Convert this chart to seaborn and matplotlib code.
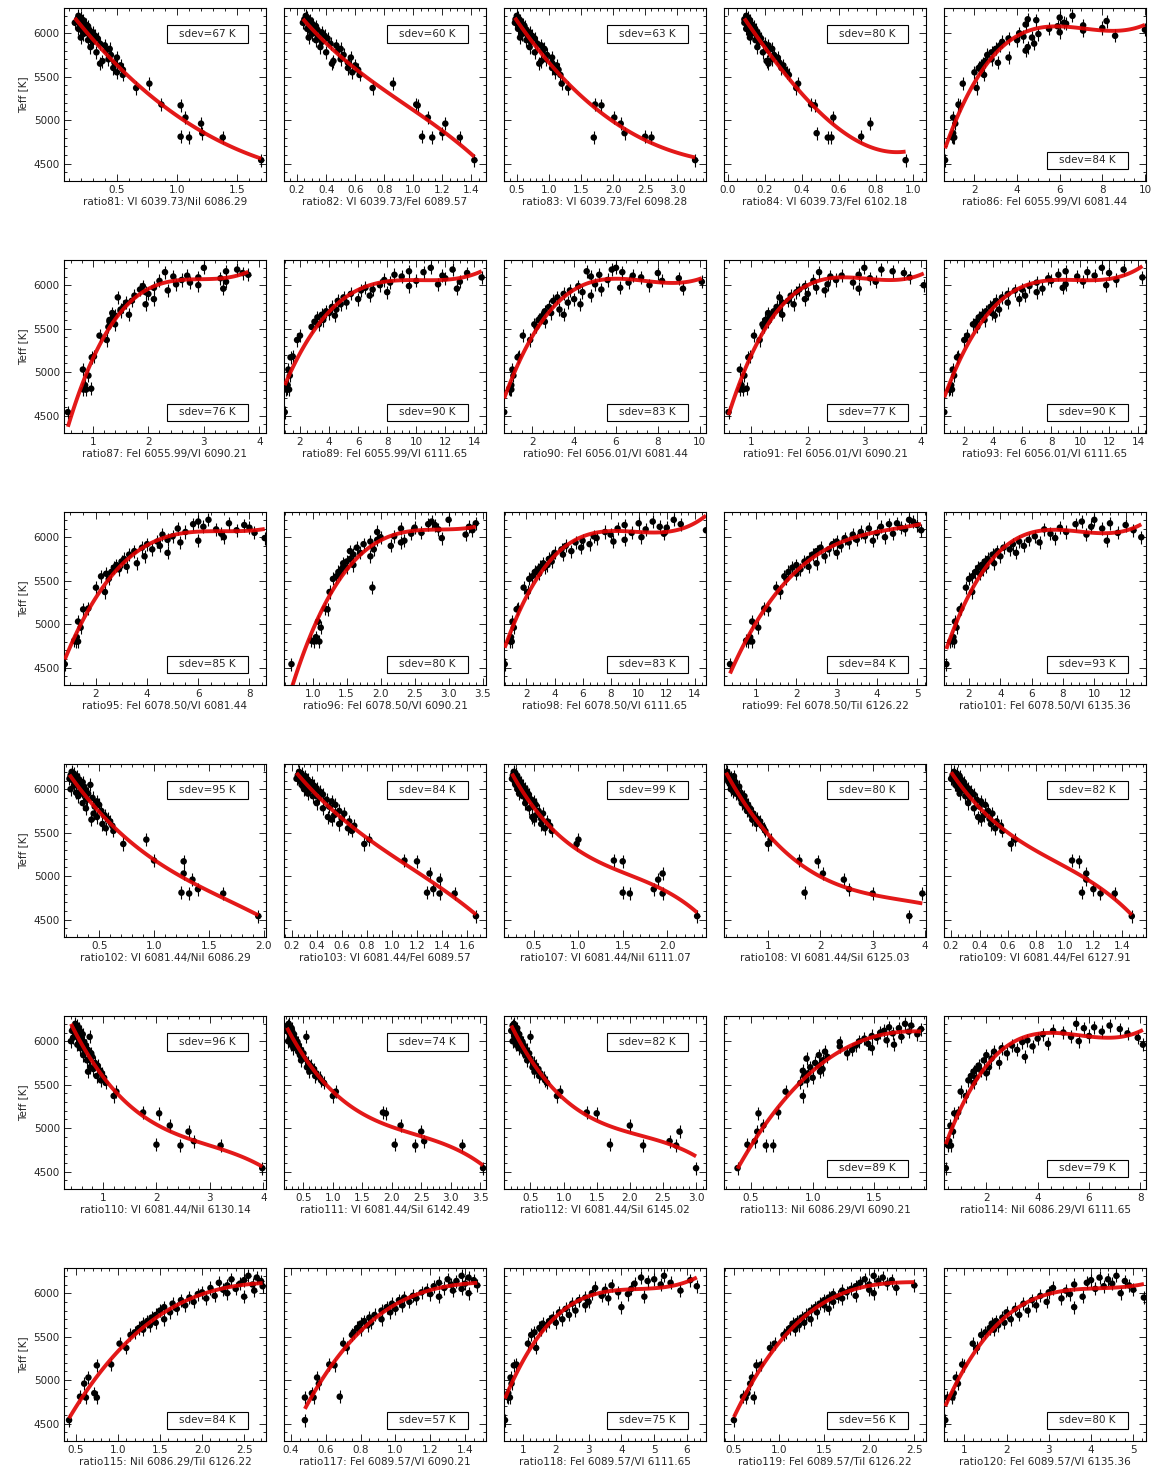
import numpy as np
import pandas as pd
import matplotlib
matplotlib.use("Agg")
import matplotlib.pyplot as plt
from matplotlib.ticker import MultipleLocator, AutoMinorLocator
from matplotlib.patches import Rectangle
import seaborn as sns

# ---------------- data ----------------
# effective temperatures of the sample stars (same stars in every panel)
TEFF = [6200, 6180, 6160, 6150, 6140, 6120, 6110, 6100, 6090, 6080,
        6060, 6050, 6040, 6030, 6010, 6000, 5990, 5970, 5960, 5950,
        5940, 5920, 5900, 5880, 5860, 5840, 5820, 5800, 5780, 5750,
        5720, 5700, 5680, 5660, 5650, 5630, 5600, 5580, 5550, 5520,
        5420, 5370, 5180, 5170, 5030, 4960, 4850, 4810, 4800, 4800, 4540]
TEFF_ERR = 75

LABELS = ["ratio81: VI 6039.73/NiI 6086.29", "ratio82: VI 6039.73/FeI 6089.57",
          "ratio83: VI 6039.73/FeI 6098.28", "ratio84: VI 6039.73/FeI 6102.18",
          "ratio86: FeI 6055.99/VI 6081.44",
          "ratio87: FeI 6055.99/VI 6090.21", "ratio89: FeI 6055.99/VI 6111.65",
          "ratio90: FeI 6056.01/VI 6081.44", "ratio91: FeI 6056.01/VI 6090.21",
          "ratio93: FeI 6056.01/VI 6111.65",
          "ratio95: FeI 6078.50/VI 6081.44", "ratio96: FeI 6078.50/VI 6090.21",
          "ratio98: FeI 6078.50/VI 6111.65", "ratio99: FeI 6078.50/TiI 6126.22",
          "ratio101: FeI 6078.50/VI 6135.36",
          "ratio102: VI 6081.44/NiI 6086.29", "ratio103: VI 6081.44/FeI 6089.57",
          "ratio107: VI 6081.44/NiI 6111.07", "ratio108: VI 6081.44/SiI 6125.03",
          "ratio109: VI 6081.44/FeI 6127.91",
          "ratio110: VI 6081.44/NiI 6130.14", "ratio111: VI 6081.44/SiI 6142.49",
          "ratio112: VI 6081.44/SiI 6145.02", "ratio113: NiI 6086.29/VI 6090.21",
          "ratio114: NiI 6086.29/VI 6111.65",
          "ratio115: NiI 6086.29/TiI 6126.22", "ratio117: FeI 6089.57/VI 6090.21",
          "ratio118: FeI 6089.57/VI 6111.65", "ratio119: FeI 6089.57/TiI 6126.22",
          "ratio120: FeI 6089.57/VI 6135.36"]

SDEV = [67, 60, 63, 80, 84, 76, 90, 83, 77, 90, 85, 80, 83, 84, 93,
        95, 84, 99, 80, 82, 96, 74, 82, 89, 79, 84, 57, 75, 56, 80]

XLO = [0.06, 0.11, 0.30, -0.02, 0.57, 0.48, 0.90, 0.65, 0.52, 0.60,
       0.75, 0.58, 0.40, 0.20, 0.40, 0.18, 0.14, 0.16, 0.16, 0.15,
       0.27, 0.17, 0.10, 0.28, 0.35, 0.36, 0.36, 0.42, 0.39, 0.52]
XHI = [1.74, 1.50, 3.45, 1.07, 10.05, 4.12, 14.8, 10.3, 4.09, 14.55,
       8.65, 3.55, 14.8, 5.22, 13.3, 2.02, 1.75, 2.44, 4.02, 1.57,
       4.05, 3.60, 3.15, 1.92, 8.22, 2.76, 1.52, 6.58, 2.63, 5.30]
XSTEP = [0.5, 0.2, 0.5, 0.2, 2, 1, 2, 2, 1, 2,
         2, 0.5, 2, 1, 2, 0.5, 0.2, 0.5, 1, 0.2,
         1, 0.5, 0.5, 0.5, 2, 0.5, 0.2, 1, 0.5, 1]

X81 = [0.18, 0.20, 0.17, 0.22, 0.19, 0.15, 0.21, 0.24, 0.20, 0.26,
       0.23, 0.18, 0.27, 0.21, 0.30, 0.25, 0.22, 0.32, 0.28, 0.20,
       0.34, 0.26, 0.30, 0.36, 0.40, 0.28, 0.44, 0.41, 0.33, 0.45,
       0.50, 0.43, 0.38, 0.48, 0.36, 0.53, 0.47, 0.55, 0.50, 0.55,
       0.77, 0.66, 0.87, 1.03, 1.07, 1.20, 1.21, 1.03, 1.10, 1.38, 1.70]
X82 = [0.26, 0.27, 0.25, 0.29, 0.27, 0.24, 0.30, 0.31, 0.28, 0.33,
       0.30, 0.27, 0.34, 0.29, 0.37, 0.32, 0.30, 0.39, 0.35, 0.28,
       0.41, 0.33, 0.37, 0.43, 0.47, 0.36, 0.50, 0.48, 0.40, 0.52,
       0.57, 0.50, 0.45, 0.55, 0.44, 0.60, 0.55, 0.62, 0.58, 0.63,
       0.86, 0.72, 1.02, 1.03, 1.10, 1.22, 1.20, 1.06, 1.13, 1.32, 1.42]
X83 = [0.50, 0.52, 0.48, 0.55, 0.53, 0.47, 0.57, 0.60, 0.55, 0.62,
       0.58, 0.52, 0.65, 0.57, 0.70, 0.63, 0.58, 0.74, 0.68, 0.55,
       0.78, 0.65, 0.72, 0.82, 0.88, 0.70, 0.93, 0.90, 0.78, 0.97,
       1.05, 0.95, 0.88, 1.05, 0.85, 1.12, 1.05, 1.15, 1.10, 1.18,
       1.20, 1.30, 1.72, 1.82, 2.02, 2.12, 2.18, 2.50, 1.70, 2.60, 3.28]
X84 = [0.10, 0.11, 0.09, 0.12, 0.11, 0.09, 0.12, 0.13, 0.11, 0.14,
       0.13, 0.10, 0.15, 0.12, 0.16, 0.14, 0.12, 0.17, 0.16, 0.12,
       0.18, 0.15, 0.17, 0.20, 0.22, 0.16, 0.24, 0.22, 0.19, 0.25,
       0.27, 0.24, 0.21, 0.28, 0.22, 0.30, 0.29, 0.31, 0.32, 0.33,
       0.38, 0.37, 0.45, 0.47, 0.57, 0.77, 0.48, 0.72, 0.54, 0.56, 0.96]
X86 = [6.6, 6.0, 4.5, 4.9, 8.2, 6.2, 6.3, 4.4, 7.1, 5.9,
       8.0, 5.5, 10.0, 7.1, 6.0, 4.1, 5.0, 8.6, 4.3, 4.7,
       3.6, 4.0, 3.3, 4.8, 3.2, 4.5, 3.0, 4.4, 2.8, 2.6,
       3.6, 2.8, 2.5, 3.1, 2.4, 2.3, 2.2, 2.3, 2.0, 2.45,
       1.45, 2.1, 1.25, 1.3, 1.0, 1.1, 1.0, 0.95, 1.05, 0.97, 0.62]
X87 = [3.0, 3.6, 3.4, 2.3, 3.7, 3.8, 2.7, 2.45, 2.9, 3.3,
       2.6, 2.2, 3.4, 2.75, 2.5, 2.9, 1.9, 2.1, 3.35, 1.85,
       2.35, 1.95, 2.0, 1.75, 1.45, 2.1, 1.7, 1.6, 1.95, 1.55,
       1.5, 1.5, 1.35, 1.65, 1.4, 1.38, 1.3, 1.3, 1.4, 1.28,
       1.12, 1.25, 1.02, 0.98, 0.82, 0.92, 0.86, 0.97, 0.83, 0.88, 0.55]
X89 = [11.0, 12.5, 9.5, 10.5, 13.5, 8.5, 11.8, 9.0, 14.5, 12.0,
       7.8, 10.0, 13.0, 8.2, 11.5, 7.5, 9.5, 6.5, 12.8, 7.0,
       6.2, 8.0, 5.5, 6.8, 5.0, 6.0, 4.6, 5.2, 4.8, 4.2,
       4.5, 3.8, 4.0, 3.5, 4.4, 3.2, 3.6, 3.0, 3.3, 2.8,
       2.0, 1.8, 1.5, 1.35, 1.2, 1.3, 1.15, 1.1, 1.25, 1.05, 0.95]
X90 = [6.0, 5.8, 4.6, 6.3, 8.0, 5.2, 6.8, 4.8, 7.2, 9.0,
       5.6, 8.2, 10.1, 6.6, 5.0, 7.6, 4.2, 6.2, 9.2, 5.3,
       3.8, 4.4, 3.5, 4.8, 3.2, 4.0, 3.0, 3.7, 4.3, 2.8,
       3.3, 2.6, 2.9, 3.5, 2.5, 2.4, 2.3, 2.6, 2.1, 2.2,
       1.55, 1.9, 1.35, 1.3, 1.05, 1.1, 1.0, 0.9, 1.0, 0.95, 0.66]
X91 = [3.0, 3.3, 3.5, 2.2, 3.7, 2.9, 2.6, 2.4, 3.8, 3.1,
       2.5, 2.1, 3.2, 2.8, 2.35, 4.05, 1.95, 2.15, 2.9, 1.85,
       2.3, 1.8, 2.0, 1.7, 1.5, 1.95, 1.65, 1.55, 1.75, 1.45,
       1.5, 1.4, 1.3, 1.55, 1.35, 1.32, 1.25, 1.3, 1.2, 1.22,
       1.05, 1.15, 0.98, 0.95, 0.8, 0.88, 0.83, 0.92, 0.8, 0.86, 0.6]
X93 = [11.5, 13.0, 9.0, 10.5, 12.0, 8.5, 11.0, 9.8, 14.3, 7.8,
       12.5, 8.0, 10.2, 7.0, 9.0, 11.8, 6.5, 8.8, 7.4, 6.0,
       5.5, 7.0, 5.0, 6.2, 4.6, 5.8, 4.2, 5.0, 4.0, 3.8,
       4.4, 3.5, 3.9, 3.2, 4.1, 3.0, 3.4, 2.8, 2.6, 2.9,
       2.2, 2.0, 1.6, 1.5, 1.2, 1.3, 1.1, 1.0, 1.15, 0.95, 0.62]
X95 = [6.4, 6.0, 7.2, 5.8, 7.8, 6.2, 8.0, 5.2, 6.7, 7.5,
       5.5, 8.2, 6.9, 4.6, 5.0, 7.0, 8.6, 4.8, 6.0, 4.4,
       5.3, 4.0, 4.5, 3.8, 4.2, 3.5, 4.8, 3.3, 3.9, 3.1,
       3.0, 3.6, 2.8, 3.2, 2.7, 2.9, 2.6, 2.4, 2.2, 2.5,
       2.0, 2.35, 1.7, 1.5, 1.3, 1.4, 1.25, 1.15, 1.3, 1.2, 0.78]
X96 = [3.0, 2.75, 3.4, 2.7, 2.8, 3.3, 2.5, 2.3, 2.85, 3.35,
       1.95, 2.6, 2.45, 3.25, 2.2, 2.0, 2.9, 1.95, 2.35, 1.85,
       2.3, 1.75, 2.15, 1.65, 1.9, 1.55, 1.7, 1.6, 1.85, 1.55,
       1.5, 1.45, 1.6, 1.45, 1.5, 1.42, 1.38, 1.4, 1.35, 1.3,
       1.88, 1.25, 1.18, 1.22, 1.08, 1.12, 1.05, 0.98, 1.02, 1.1, 0.69]
X98 = [12.5, 11.0, 10.0, 13.0, 9.0, 11.5, 12.0, 8.5, 10.5, 14.8,
       7.6, 9.5, 11.8, 8.0, 6.8, 10.2, 7.0, 9.0, 6.0, 8.2,
       5.5, 6.5, 4.8, 5.9, 4.5, 5.2, 4.0, 4.6, 3.9, 3.6,
       3.8, 3.2, 3.5, 3.0, 3.3, 2.8, 2.6, 2.9, 2.4, 2.2,
       1.8, 2.1, 1.4, 1.3, 1.0, 1.1, 0.9, 0.8, 0.95, 0.85, 0.45]
X99 = [4.8, 4.9, 4.5, 4.3, 5.0, 4.1, 4.6, 3.8, 4.7, 5.1,
       3.6, 4.0, 4.4, 3.4, 3.7, 4.2, 3.2, 3.5, 3.9, 3.0,
       3.3, 2.9, 3.1, 2.6, 2.8, 2.5, 3.0, 2.4, 2.7, 2.3,
       2.2, 2.5, 2.0, 2.3, 1.9, 2.1, 1.8, 2.0, 1.7, 1.75,
       1.5, 1.6, 1.2, 1.3, 0.9, 1.05, 0.85, 0.75, 0.9, 0.8, 0.35]
X101 = [10.0, 9.2, 11.0, 8.8, 12.0, 9.8, 7.8, 10.5, 6.8, 12.5,
        8.2, 11.5, 7.2, 9.5, 6.2, 13.0, 7.5, 5.8, 10.8, 5.2,
        6.5, 4.8, 5.5, 4.2, 4.6, 3.8, 5.0, 3.5, 4.0, 3.2,
        3.0, 3.6, 2.8, 3.1, 2.6, 2.9, 2.4, 2.7, 2.2, 2.0,
        1.8, 2.2, 1.5, 1.4, 1.1, 1.2, 1.0, 0.9, 1.05, 0.8, 0.55]
X102 = [0.25, 0.27, 0.24, 0.30, 0.28, 0.23, 0.32, 0.26, 0.29, 0.35,
        0.31, 0.42, 0.27, 0.36, 0.33, 0.24, 0.38, 0.34, 0.29, 0.40,
        0.36, 0.31, 0.44, 0.39, 0.48, 0.35, 0.50, 0.46, 0.38, 0.52,
        0.45, 0.55, 0.48, 0.58, 0.43, 0.60, 0.53, 0.62, 0.56, 0.63,
        0.93, 0.72, 1.00, 1.27, 1.27, 1.35, 1.40, 1.25, 1.32, 1.63, 1.95]
X103 = [0.26, 0.28, 0.25, 0.31, 0.29, 0.24, 0.33, 0.30, 0.27, 0.36,
        0.32, 0.28, 0.38, 0.34, 0.40, 0.30, 0.36, 0.43, 0.39, 0.33,
        0.45, 0.37, 0.42, 0.48, 0.52, 0.40, 0.55, 0.50, 0.45, 0.58,
        0.62, 0.54, 0.49, 0.60, 0.52, 0.66, 0.58, 0.70, 0.65, 0.68,
        0.82, 0.78, 1.10, 1.20, 1.30, 1.38, 1.33, 1.28, 1.38, 1.50, 1.67]
X107 = [0.27, 0.29, 0.26, 0.31, 0.28, 0.25, 0.33, 0.30, 0.28, 0.35,
        0.32, 0.29, 0.37, 0.33, 0.40, 0.31, 0.36, 0.42, 0.38, 0.33,
        0.44, 0.37, 0.41, 0.47, 0.50, 0.40, 0.52, 0.48, 0.44, 0.55,
        0.60, 0.52, 0.48, 0.58, 0.50, 0.65, 0.58, 0.68, 0.62, 0.70,
        1.00, 0.98, 1.40, 1.50, 1.95, 1.90, 1.85, 1.50, 1.58, 1.95, 2.34]
X108 = [0.22, 0.20, 0.25, 0.35, 0.30, 0.21, 0.28, 0.32, 0.24, 0.38,
        0.27, 0.33, 0.30, 0.45, 0.36, 0.29, 0.40, 0.34, 0.48, 0.38,
        0.43, 0.55, 0.47, 0.52, 0.58, 0.50, 0.62, 0.56, 0.66, 0.60,
        0.72, 0.68, 0.75, 0.80, 0.70, 0.85, 0.78, 0.88, 0.92, 0.95,
        1.05, 1.00, 1.60, 1.95, 2.05, 2.45, 2.55, 1.70, 3.00, 3.95, 3.70]
X109 = [0.22, 0.24, 0.21, 0.26, 0.23, 0.20, 0.27, 0.25, 0.22, 0.29,
        0.26, 0.23, 0.30, 0.27, 0.32, 0.25, 0.29, 0.34, 0.31, 0.26,
        0.36, 0.30, 0.33, 0.38, 0.41, 0.32, 0.44, 0.40, 0.36, 0.46,
        0.49, 0.43, 0.39, 0.47, 0.41, 0.52, 0.48, 0.55, 0.51, 0.56,
        0.65, 0.62, 1.05, 1.10, 1.15, 1.15, 1.20, 1.12, 1.25, 1.35, 1.47]
X110 = [0.48, 0.52, 0.45, 0.55, 0.50, 0.42, 0.58, 0.47, 0.53, 0.62,
        0.49, 0.75, 0.44, 0.60, 0.56, 0.40, 0.65, 0.58, 0.52, 0.68,
        0.62, 0.57, 0.72, 0.66, 0.78, 0.63, 0.80, 0.74, 0.70, 0.85,
        0.90, 0.76, 0.82, 0.95, 0.72, 0.98, 0.88, 1.02, 0.96, 1.05,
        1.25, 1.20, 1.75, 2.05, 2.25, 2.60, 2.70, 2.00, 2.45, 3.20, 3.98]
X111 = [0.25, 0.23, 0.28, 0.30, 0.27, 0.22, 0.31, 0.29, 0.26, 0.34,
        0.30, 0.55, 0.27, 0.36, 0.33, 0.24, 0.40, 0.34, 0.29, 0.42,
        0.38, 0.33, 0.46, 0.41, 0.50, 0.44, 0.48, 0.52, 0.46, 0.58,
        0.62, 0.56, 0.68, 0.66, 0.60, 0.72, 0.70, 0.78, 0.80, 0.85,
        1.05, 1.00, 1.85, 1.90, 2.15, 2.50, 2.55, 2.05, 2.40, 3.20, 3.55]
X112 = [0.25, 0.23, 0.27, 0.30, 0.26, 0.21, 0.30, 0.28, 0.25, 0.33,
        0.29, 0.50, 0.26, 0.35, 0.32, 0.23, 0.38, 0.33, 0.28, 0.40,
        0.37, 0.32, 0.44, 0.39, 0.48, 0.42, 0.46, 0.50, 0.45, 0.55,
        0.58, 0.53, 0.62, 0.60, 0.56, 0.65, 0.63, 0.70, 0.72, 0.75,
        0.95, 0.90, 1.35, 1.50, 2.00, 2.75, 2.60, 1.70, 2.20, 2.70, 3.00]
X113 = [1.75, 1.80, 1.62, 1.70, 1.88, 1.58, 1.78, 1.55, 1.65, 1.85,
        1.48, 1.72, 1.52, 1.42, 1.60, 1.38, 1.22, 1.45, 1.66, 1.35,
        1.22, 1.48, 1.32, 1.10, 1.28, 1.05, 1.12, 0.95, 1.08, 1.02,
        1.05, 0.98, 1.08, 0.92, 1.06, 0.96, 0.93, 1.00, 0.95, 0.90,
        0.78, 0.92, 0.72, 0.56, 0.60, 0.55, 0.53, 0.47, 0.62, 0.68, 0.39]
X114 = [5.5, 6.8, 6.2, 5.8, 7.2, 4.6, 6.5, 5.0, 7.5, 4.2,
        6.0, 5.3, 7.9, 4.0, 3.6, 5.6, 3.4, 4.4, 8.1, 3.0,
        3.8, 2.6, 3.2, 2.3, 2.8, 2.0, 3.5, 2.2, 1.9, 2.5,
        1.7, 2.1, 1.6, 1.8, 1.5, 2.0, 1.4, 1.6, 1.3, 1.5,
        1.0, 1.2, 0.9, 0.75, 0.6, 0.7, 0.55, 0.5, 0.62, 0.52, 0.42]
X115 = [2.55, 2.65, 2.35, 2.50, 2.70, 2.20, 2.45, 2.60, 2.30, 2.72,
        2.10, 2.40, 2.25, 2.62, 2.00, 2.30, 1.95, 2.15, 2.50, 1.85,
        2.05, 1.75, 1.90, 1.65, 1.80, 1.55, 1.70, 1.50, 1.62, 1.45,
        1.40, 1.55, 1.35, 1.45, 1.30, 1.38, 1.25, 1.30, 1.20, 1.15,
        1.02, 1.10, 0.92, 0.75, 0.65, 0.60, 0.72, 0.55, 0.75, 0.62, 0.42]
X117 = [1.38, 1.42, 1.30, 1.45, 1.35, 1.25, 1.40, 1.32, 1.47, 1.22,
        1.28, 1.38, 1.18, 1.33, 1.15, 1.42, 1.20, 1.10, 1.25, 1.05,
        1.12, 1.02, 1.08, 0.98, 1.04, 0.95, 1.00, 0.92, 0.97, 0.88,
        0.85, 0.92, 0.82, 0.86, 0.80, 0.84, 0.78, 0.80, 0.76, 0.75,
        0.70, 0.72, 0.62, 0.65, 0.55, 0.56, 0.52, 0.68, 0.48, 0.53, 0.48]
X118 = [5.3, 4.6, 5.0, 6.1, 4.8, 5.5, 4.4, 5.2, 3.7, 6.3,
        3.2, 4.3, 3.5, 5.8, 3.9, 3.1, 4.2, 3.4, 4.7, 2.9,
        3.6, 2.7, 3.0, 2.5, 2.9, 4.0, 2.3, 2.6, 2.1, 2.4,
        1.9, 2.2, 1.8, 2.0, 1.6, 1.7, 1.5, 1.55, 1.35, 1.25,
        1.15, 1.4, 0.8, 0.72, 0.62, 0.65, 0.55, 0.5, 0.6, 0.55, 0.45]
X119 = [2.05, 2.15, 1.95, 2.25, 2.10, 1.90, 2.20, 2.00, 2.50, 1.85,
        2.30, 1.80, 2.00, 1.70, 1.75, 2.05, 1.60, 1.85, 1.65, 1.55,
        1.70, 1.50, 1.60, 1.45, 1.50, 1.40, 1.55, 1.35, 1.42, 1.30,
        1.25, 1.35, 1.20, 1.28, 1.15, 1.22, 1.12, 1.18, 1.08, 1.05,
        0.95, 0.90, 0.80, 0.75, 0.70, 0.68, 0.65, 0.60, 0.63, 0.72, 0.50]
X120 = [4.6, 4.2, 4.4, 4.0, 4.8, 3.9, 4.5, 3.6, 4.9, 4.3,
        3.1, 4.1, 5.0, 3.4, 3.0, 4.7, 3.5, 2.8, 3.8, 5.25,
        3.3, 2.6, 2.95, 2.4, 2.7, 3.6, 2.2, 2.5, 2.0, 2.3,
        1.9, 2.1, 1.75, 1.95, 1.65, 1.8, 1.6, 1.7, 1.5, 1.4,
        1.2, 1.3, 0.95, 1.0, 0.8, 0.85, 0.75, 0.7, 0.6, 0.72, 0.55]

RATIOS = [X81, X82, X83, X84, X86, X87, X89, X90, X91, X93,
          X95, X96, X98, X99, X101, X102, X103, X107, X108, X109,
          X110, X111, X112, X113, X114, X115, X117, X118, X119, X120]

# ---------------- style ----------------
sns.set_style("white")
plt.rcParams['font.family'] = ['DejaVu Sans']
FS = 7.5

W, H = 1159, 1479
fig = plt.figure(figsize=(W / 100, H / 100), dpi=100)

PW, PH = 202, 173
for i, (xs, lab) in enumerate(zip(RATIOS, LABELS)):
    r, c = divmod(i, 5)
    left_px = 64 + 220 * c
    top_px = 8 + 252 * r
    ax = fig.add_axes([left_px / W, 1 - (top_px + PH) / H, PW / W, PH / H])
    df = pd.DataFrame({"ratio": xs, "teff": TEFF})

    ax.errorbar(df["ratio"], df["teff"], yerr=TEFF_ERR,
                xerr=df["ratio"] * 0.012, fmt="none", ecolor="black",
                elinewidth=0.8, capsize=0, zorder=2)
    sns.scatterplot(data=df, x="ratio", y="teff", ax=ax, color="black",
                    s=22, edgecolor="none", zorder=3, legend=False)
    sns.regplot(data=df, x="ratio", y="teff", order=3, ci=None,
                scatter=False, ax=ax, truncate=True,
                line_kws=dict(color="#e00000", lw=2.8, alpha=0.9,
                              solid_capstyle="butt", zorder=4))

    ax.set_xlim(XLO[i], XHI[i])
    ax.set_ylim(4300, 6290)
    ax.xaxis.set_major_locator(MultipleLocator(XSTEP[i]))
    ax.xaxis.set_minor_locator(AutoMinorLocator())
    ax.yaxis.set_major_locator(MultipleLocator(500))
    ax.yaxis.set_minor_locator(MultipleLocator(100))
    ax.tick_params(which="both", direction="in", top=True, right=True,
                   bottom=True, left=True, labelsize=FS, pad=3,
                   width=0.7)
    ax.tick_params(which="major", length=5)
    ax.tick_params(which="minor", length=2.5)
    for s in ax.spines.values():
        s.set_linewidth(0.8)
        s.set_color("black")
    ax.set_xlabel(lab, fontsize=FS, labelpad=1)
    if c == 0:
        ax.set_ylabel("Teff [K]", fontsize=FS, labelpad=4)
    else:
        ax.set_ylabel("")
        ax.set_yticklabels([])

    decreasing = np.corrcoef(xs, TEFF)[0, 1] < 0
    by = 0.80 if decreasing else 0.07
    ax.add_patch(Rectangle((0.51, by), 0.40, 0.10, transform=ax.transAxes,
                           fill=True, facecolor="white", edgecolor="black",
                           lw=0.8, zorder=5))
    ax.text(0.71, by + 0.05, f"sdev={SDEV[i]} K", transform=ax.transAxes,
            ha="center", va="center", fontsize=FS, zorder=6)

fig.savefig("out.png", dpi=100, facecolor="white")
